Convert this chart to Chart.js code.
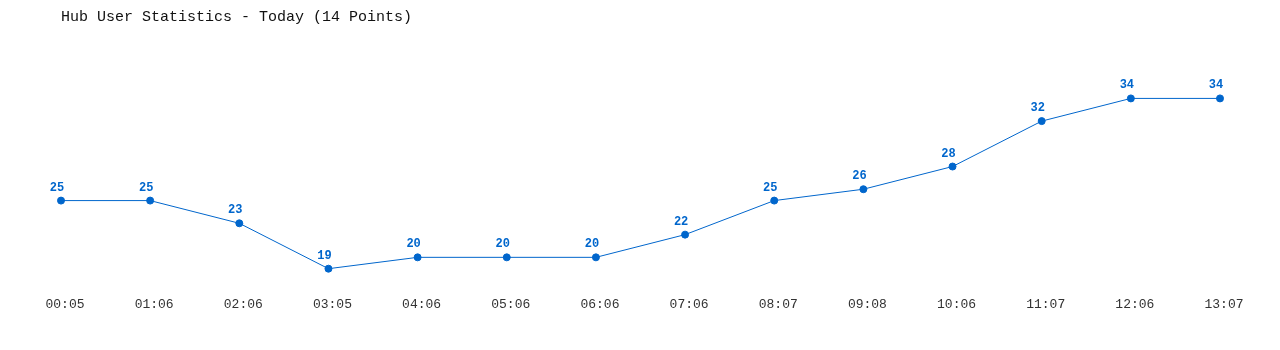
<!DOCTYPE html>
<html>
<head>
<meta charset="utf-8">
<script src="https://cdn.jsdelivr.net/npm/chart.js@4.4.1/dist/chart.umd.min.js"></script>
<style>
  html, body { margin: 0; padding: 0; background: #fff; }
  #wrap { width: 1280px; height: 350px; }
</style>
</head>
<body>
<div id="wrap"><canvas id="hubChart" width="1280" height="350"></canvas></div>
<script>
// times of the samples (x axis) and the user counts
const timeLabels = ["00:05", "01:06", "02:06", "03:05", "04:06", "05:06", "06:06",
  "07:06", "08:07", "09:08", "10:06", "11:07", "12:06", "13:07"];
const userCounts = [25, 25, 23, 19, 20, 20, 20, 22, 25, 26, 28, 32, 34, 34];
const chartTitle = "Hub User Statistics - Today (14 Points)";

const mono = "'Liberation Mono', 'DejaVu Sans Mono', monospace";
const blue = "#0066cc";

// draws the value above each point
const valueLabels = {
  id: "valueLabels",
  afterDatasetsDraw(chart) {
    const ctx = chart.ctx;
    const meta = chart.getDatasetMeta(0);
    ctx.save();
    ctx.font = "bold 12px " + mono;
    ctx.fillStyle = blue;
    ctx.textAlign = "center";
    ctx.textBaseline = "middle";
    meta.data.forEach((pt, i) => {
      ctx.fillText(String(userCounts[i]), pt.x - 4, pt.y - 13);
    });
    ctx.restore();
  },
};

const ctx = document.getElementById("hubChart").getContext("2d");
new Chart(ctx, {
  type: "line",
  data: {
    labels: timeLabels,
    datasets: [
      {
        data: userCounts,
        borderColor: blue,
        backgroundColor: blue,
        borderWidth: 1,
        pointRadius: 3.5,
        pointHoverRadius: 3.5,
        tension: 0,
        fill: false,
      },
    ],
  },
  options: {
    responsive: false,
    animation: false,
    layout: { padding: { left: 61, right: 60, top: 0, bottom: 33 } },
    plugins: {
      legend: { display: false },
      tooltip: { enabled: false },
      title: {
        display: true,
        text: chartTitle,
        align: "start",
        color: "#111",
        font: { family: mono, size: 15, weight: "normal" },
        padding: { top: 8, bottom: 27 },
      },
    },
    scales: {
      x: {
        offset: false,
        grid: { display: false, drawTicks: false },
        border: { display: false },
        ticks: {
          color: "#333",
          font: { family: mono, size: 13 },
          padding: 5,
          labelOffset: 4,
          maxRotation: 0,
          autoSkip: false,
        },
      },
      y: {
        display: false,
        min: 17,
        max: 38,
      },
    },
  },
  plugins: [valueLabels],
});
</script>
</body>
</html>
